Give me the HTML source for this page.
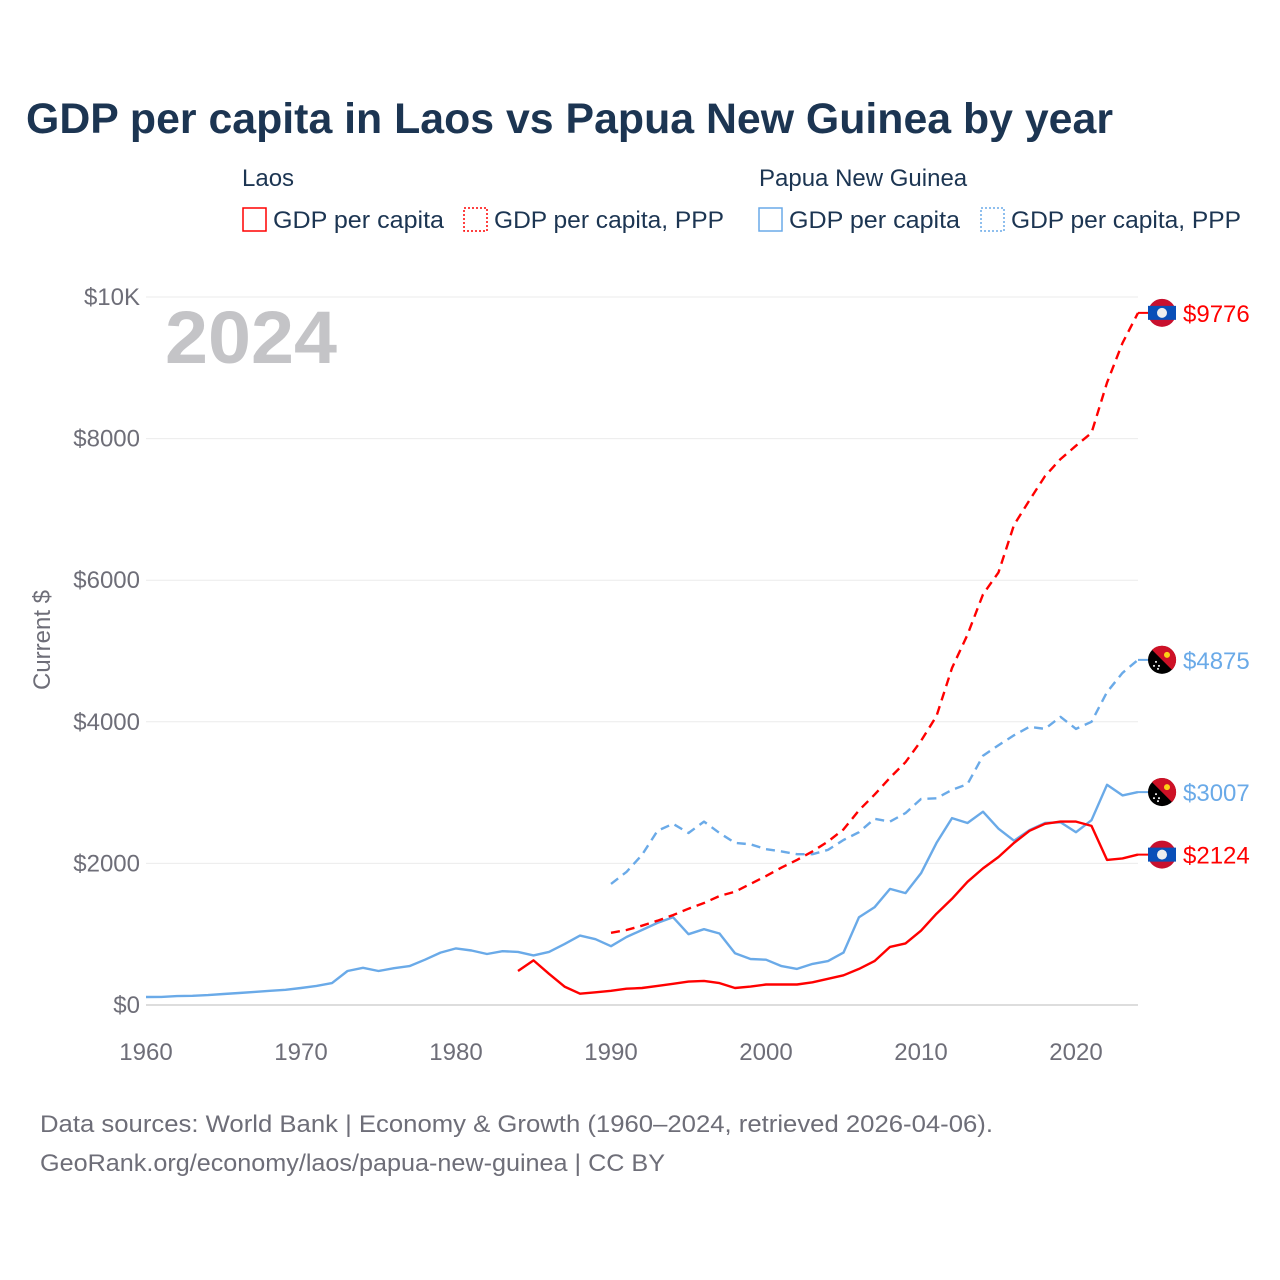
<!DOCTYPE html>
<html><head><meta charset="utf-8"><style>
body{margin:0;background:#fff;font-family:"Liberation Sans",sans-serif;}
#wrap{position:relative;width:1280px;height:1280px;overflow:hidden}
svg text{font-family:"Liberation Sans",sans-serif}
</style></head><body><div id="wrap">
<svg id="chart" width="1280" height="1280">
<text x="26" y="133" font-size="43" font-weight="bold" fill="#1c3552" textLength="1087" lengthAdjust="spacingAndGlyphs">GDP per capita in Laos vs Papua New Guinea by year</text>
<text x="242" y="186" font-size="24" fill="#1c3552">Laos</text>
<text x="759" y="186" font-size="24" fill="#1c3552">Papua New Guinea</text>
<g><rect x="243" y="208" width="23" height="23" fill="none" stroke="#f00" stroke-width="1.5"/><text x="273" y="228" font-size="24" fill="#1c3552" textLength="171" lengthAdjust="spacingAndGlyphs">GDP per capita</text></g>
<g><rect x="464" y="208" width="23" height="23" fill="none" stroke="#f00" stroke-width="1.5" stroke-dasharray="2,2"/><text x="494" y="228" font-size="24" fill="#1c3552" textLength="230" lengthAdjust="spacingAndGlyphs">GDP per capita, PPP</text></g>
<g><rect x="759" y="208" width="23" height="23" fill="none" stroke="#6aaae8" stroke-width="1.5"/><text x="789" y="228" font-size="24" fill="#1c3552" textLength="171" lengthAdjust="spacingAndGlyphs">GDP per capita</text></g>
<g><rect x="981" y="208" width="23" height="23" fill="none" stroke="#6aaae8" stroke-width="1.5" stroke-dasharray="2,2"/><text x="1011" y="228" font-size="24" fill="#1c3552" textLength="230" lengthAdjust="spacingAndGlyphs">GDP per capita, PPP</text></g>
<text x="165" y="363" font-size="74" font-weight="bold" fill="#c4c4c7" textLength="172" lengthAdjust="spacingAndGlyphs">2024</text>
<text transform="translate(50,640) rotate(-90)" text-anchor="middle" font-size="24" fill="#6e6e78">Current $</text>
<text x="40" y="1132" font-size="24" fill="#6e6e78" textLength="953" lengthAdjust="spacingAndGlyphs">Data sources: World Bank | Economy &amp; Growth (1960–2024, retrieved 2026-04-06).</text>
<text x="40" y="1171" font-size="24" fill="#6e6e78" textLength="625" lengthAdjust="spacingAndGlyphs">GeoRank.org/economy/laos/papua-new-guinea | CC BY</text>
<g id="grid"></g><g id="lines"></g><g id="ends"></g>
</svg></div>
<script>
const yTicks=[0,2000,4000,6000,8000,10000];
const yTickLabels=["$0","$2000","$4000","$6000","$8000","$10K"];
const xTicks=[1960,1970,1980,1990,2000,2010,2020];
const pngYears0=1960;
const pngGdp=[113,115,125,130,140,155,170,185,200,215,240,270,310,480,525,480,520,550,640,740,800,770,720,760,750,700,750,860,980,930,830,960,1060,1160,1240,1000,1070,1010,730,650,640,550,510,580,620,740,1240,1380,1640,1580,1860,2290,2640,2570,2730,2490,2320,2470,2570,2580,2440,2610,3110,2960,3007];
const laosYears0=1984;
const laosGdp=[480,630,440,260,160,180,200,230,240,270,300,330,340,310,240,260,290,290,290,320,370,420,510,620,820,870,1050,1290,1500,1740,1930,2090,2290,2460,2560,2590,2590,2530,2050,2070,2124];
const pppYears0=1990;
const laosPpp=[1020,1060,1120,1190,1270,1360,1440,1540,1600,1710,1820,1940,2050,2170,2310,2480,2750,2970,3210,3430,3730,4080,4760,5230,5800,6110,6780,7130,7470,7710,7900,8080,8790,9350,9776];
const pngPpp=[1710,1880,2120,2460,2560,2430,2590,2430,2290,2270,2200,2170,2130,2130,2190,2330,2440,2630,2590,2710,2910,2920,3040,3120,3520,3670,3810,3930,3900,4070,3900,4000,4420,4690,4875];
const NS='http://www.w3.org/2000/svg';
const X=y=>146+(y-1960)*15.5;
const Y=v=>1005-v*0.0708;
function mk(t,a,p){const e=document.createElementNS(NS,t);for(const k in a)e.setAttribute(k,a[k]);p.appendChild(e);return e;}
const grid=document.getElementById('grid');
yTicks.forEach((v,i)=>{
 const l=mk('line',{x1:146,x2:1138,y1:Y(v),y2:Y(v),stroke:v===0?'#ddd':'#ebebeb','stroke-width':v===0?2:1},grid);
 
 
 const t=mk('text',{x:140,y:Y(v)+8,'text-anchor':'end','font-size':24,fill:'#6e6e78'},grid);
 t.textContent=yTickLabels[i];
 
 
});
xTicks.forEach(y=>{
 const t=mk('text',{x:X(y),y:1060,'text-anchor':'middle','font-size':24,fill:'#6e6e78'},grid);
 t.textContent=y;
 
 
});
const lines=document.getElementById('lines');
function series(arr,y0,color,dash,name){
 const d=arr.map((v,i)=>(i?'L':'M')+X(y0+i).toFixed(1)+','+Y(v).toFixed(1)).join('');
 const p=mk('path',{d:d,fill:'none',stroke:color,'stroke-width':2.4,'stroke-dasharray':dash,'stroke-linejoin':'round'},lines);
 
 
}
series(pngGdp,pngYears0,'#6aaae8','none','png-gdp-line');
series(pngPpp,pppYears0,'#6aaae8','9,6','png-ppp-line');
series(laosGdp,laosYears0,'#f00','none','laos-gdp-line');
series(laosPpp,pppYears0,'#f00','9,6','laos-ppp-line');
const ends=document.getElementById('ends');
function flag(cy,laos,val,color,name){
 const g=mk('g',{},ends);
 
 
 const cx=1162;
 mk('line',{x1:X(2024),x2:cx,y1:cy,y2:cy,stroke:color,'stroke-width':2},g);
 if(laos){
  mk('circle',{cx:cx,cy:cy,r:14,fill:'#c8102e'},g);
  mk('rect',{x:cx-14,y:cy-7,width:28,height:14,fill:'#0a4fb8'},g);
  mk('circle',{cx:cx,cy:cy,r:5,fill:'#eee'},g);
 }else{
  mk('circle',{cx:cx,cy:cy,r:14,fill:'#000'},g);
  mk('path',{d:`M${cx-10},${cy-10}A14,14 0 0 1 ${cx+10},${cy+10}Z`,fill:'#ce1126'},g);
  mk('circle',{cx:cx+5,cy:cy-5,r:3,fill:'#fcd116'},g);
  [[-6,2],[-3,6],[-8,6],[-4,9]].forEach(s=>mk('circle',{cx:cx+s[0],cy:cy+s[1],r:1,fill:'#fff'},g));
 }
 const t=mk('text',{x:1183,y:cy+9,'font-size':24,fill:color},g);
 t.textContent='$'+val;
}
flag(Y(laosPpp[laosPpp.length-1]),true,laosPpp[laosPpp.length-1],'#f00','end-label-laos-ppp');
flag(Y(pngPpp[pngPpp.length-1]),false,pngPpp[pngPpp.length-1],'#6aaae8','end-label-png-ppp');
flag(Y(pngGdp[pngGdp.length-1]),false,pngGdp[pngGdp.length-1],'#6aaae8','end-label-png-gdp');
flag(Y(laosGdp[laosGdp.length-1]),true,laosGdp[laosGdp.length-1],'#f00','end-label-laos-gdp');
</script></body></html>
